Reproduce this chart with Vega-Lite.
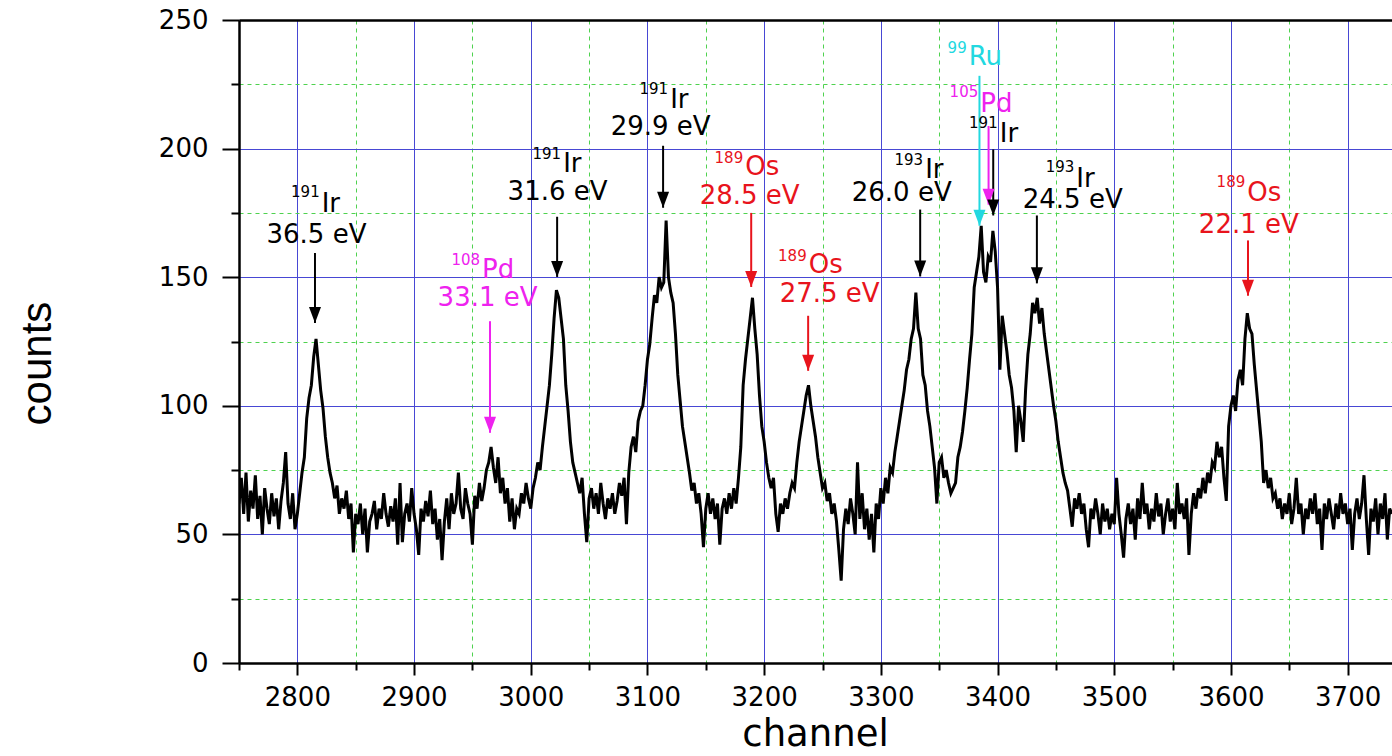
{
"$schema": "https://vega.github.io/schema/vega-lite/v6.json",
"width": 1153, "height": 643,
"autosize": {"type": "none"},
"padding": {"left": 239, "top": 20, "right": 0, "bottom": 93},
"background": "#ffffff",
"config": {"view": {"stroke": null}},
"datasets": {
"spec": [
{"c":2750,"n":62},{"c":2752,"n":72},{"c":2754,"n":58},{"c":2756,"n":74},{"c":2758,"n":55},{"c":2760,"n":67},{"c":2762,"n":60},{"c":2764,"n":73},{"c":2766,"n":56},{"c":2768,"n":65},{"c":2770,"n":50},{"c":2772,"n":68},{"c":2774,"n":60},{"c":2776,"n":54},{"c":2778,"n":66},{"c":2780,"n":57},{"c":2782,"n":64},{"c":2784,"n":52},{"c":2786,"n":63},{"c":2788,"n":70},{"c":2790,"n":82},{"c":2792,"n":62},{"c":2794,"n":56},{"c":2796,"n":66},{"c":2798,"n":52},{"c":2800,"n":58},
{"c":2802,"n":66},{"c":2804,"n":74},{"c":2806,"n":80},{"c":2808,"n":95},{"c":2810,"n":103},{"c":2812,"n":108},{"c":2814,"n":119},{"c":2816,"n":126},{"c":2818,"n":116},{"c":2820,"n":106},{"c":2822,"n":99},{"c":2824,"n":88},{"c":2826,"n":80},{"c":2828,"n":74},{"c":2830,"n":70},{"c":2832,"n":64},{"c":2834,"n":69},
{"c":2836,"n":58},{"c":2838,"n":64},{"c":2840,"n":60},{"c":2842,"n":67},{"c":2844,"n":56},{"c":2846,"n":62},{"c":2848,"n":43},{"c":2850,"n":58},{"c":2852,"n":54},{"c":2854,"n":62},{"c":2856,"n":50},{"c":2858,"n":60},{"c":2860,"n":43},{"c":2862,"n":55},{"c":2864,"n":58},{"c":2866,"n":63},{"c":2868,"n":52},{"c":2870,"n":60},{"c":2872,"n":56},{"c":2874,"n":66},{"c":2876,"n":58},{"c":2878,"n":53},{"c":2880,"n":61},{"c":2882,"n":55},{"c":2884,"n":64},{"c":2886,"n":46},{"c":2888,"n":70},{"c":2890,"n":47},{"c":2892,"n":58},{"c":2894,"n":62},{"c":2896,"n":55},{"c":2898,"n":68},{"c":2900,"n":58},{"c":2902,"n":52},{"c":2904,"n":42},{"c":2906,"n":60},{"c":2908,"n":55},{"c":2910,"n":63},{"c":2912,"n":57},{"c":2914,"n":67},{"c":2916,"n":54},{"c":2918,"n":60},{"c":2920,"n":48},{"c":2922,"n":56},{"c":2924,"n":40},{"c":2926,"n":55},{"c":2928,"n":64},{"c":2930,"n":52},{"c":2932,"n":66},{"c":2934,"n":58},{"c":2936,"n":62},{"c":2938,"n":74},{"c":2940,"n":60},{"c":2942,"n":56},{"c":2944,"n":68},{"c":2946,"n":62},{"c":2948,"n":58},{"c":2950,"n":46},{"c":2952,"n":65},{"c":2954,"n":60},{"c":2956,"n":70},{"c":2958,"n":63},{"c":2960,"n":68},{"c":2962,"n":75},{"c":2964,"n":78},{"c":2966,"n":84},{"c":2968,"n":76},{"c":2970,"n":70},{"c":2972,"n":80},{"c":2974,"n":66},{"c":2976,"n":72},{"c":2978,"n":62},{"c":2980,"n":68},{"c":2982,"n":55},{"c":2984,"n":64},{"c":2986,"n":52},{"c":2988,"n":60},{"c":2990,"n":58},{"c":2992,"n":66},{"c":2994,"n":62},{"c":2996,"n":70},{"c":2998,"n":64},
{"c":3000,"n":60},{"c":3002,"n":68},{"c":3004,"n":72},{"c":3006,"n":78},{"c":3008,"n":75},{"c":3010,"n":84},{"c":3012,"n":92},{"c":3014,"n":100},{"c":3016,"n":108},{"c":3018,"n":120},{"c":3020,"n":134},{"c":3022,"n":145},{"c":3024,"n":142},{"c":3026,"n":134},{"c":3028,"n":126},{"c":3030,"n":108},{"c":3032,"n":98},{"c":3034,"n":86},{"c":3036,"n":78},{"c":3038,"n":74},{"c":3040,"n":70},{"c":3042,"n":66},{"c":3044,"n":72},{"c":3046,"n":58},{"c":3048,"n":47},{"c":3050,"n":64},{"c":3052,"n":68},{"c":3054,"n":60},{"c":3056,"n":66},{"c":3058,"n":58},{"c":3060,"n":70},{"c":3062,"n":62},{"c":3064,"n":56},{"c":3066,"n":64},{"c":3068,"n":60},{"c":3070,"n":66},{"c":3072,"n":58},{"c":3074,"n":63},{"c":3076,"n":70},{"c":3078,"n":65},{"c":3080,"n":72},{"c":3082,"n":54},{"c":3084,"n":74},
{"c":3086,"n":84},{"c":3088,"n":88},{"c":3090,"n":82},{"c":3092,"n":94},{"c":3094,"n":98},{"c":3096,"n":100},{"c":3098,"n":108},{"c":3100,"n":118},{"c":3102,"n":124},{"c":3104,"n":134},{"c":3106,"n":143},{"c":3108,"n":140},{"c":3110,"n":150},{"c":3112,"n":146},{"c":3114,"n":148},{"c":3116,"n":172},{"c":3118,"n":150},{"c":3120,"n":144},{"c":3122,"n":140},{"c":3124,"n":128},{"c":3126,"n":112},{"c":3128,"n":102},{"c":3130,"n":92},{"c":3132,"n":86},{"c":3134,"n":80},{"c":3136,"n":74},{"c":3138,"n":67},{"c":3140,"n":70},{"c":3142,"n":62},{"c":3144,"n":66},{"c":3146,"n":58},{"c":3148,"n":45},{"c":3150,"n":60},
{"c":3152,"n":66},{"c":3154,"n":58},{"c":3156,"n":64},{"c":3158,"n":56},{"c":3160,"n":62},{"c":3162,"n":46},{"c":3164,"n":60},{"c":3166,"n":64},{"c":3168,"n":58},{"c":3170,"n":66},{"c":3172,"n":60},{"c":3174,"n":68},{"c":3176,"n":62},{"c":3178,"n":72},
{"c":3180,"n":84},{"c":3182,"n":108},{"c":3184,"n":118},{"c":3186,"n":126},{"c":3188,"n":134},{"c":3190,"n":142},{"c":3192,"n":130},{"c":3194,"n":120},{"c":3196,"n":104},{"c":3198,"n":92},{"c":3200,"n":86},{"c":3202,"n":78},{"c":3204,"n":72},{"c":3206,"n":68},{"c":3208,"n":72},{"c":3210,"n":58},{"c":3212,"n":51},{"c":3214,"n":62},{"c":3216,"n":58},{"c":3218,"n":64},{"c":3220,"n":60},{"c":3222,"n":66},
{"c":3224,"n":70},{"c":3226,"n":68},{"c":3228,"n":78},{"c":3230,"n":86},{"c":3232,"n":92},{"c":3234,"n":98},{"c":3236,"n":104},{"c":3238,"n":108},{"c":3240,"n":100},{"c":3242,"n":94},{"c":3244,"n":88},{"c":3246,"n":80},{"c":3248,"n":74},{"c":3250,"n":68},{"c":3252,"n":70},{"c":3254,"n":63},{"c":3256,"n":66},{"c":3258,"n":58},
{"c":3260,"n":62},{"c":3262,"n":55},{"c":3264,"n":44},{"c":3266,"n":32},{"c":3268,"n":52},{"c":3270,"n":60},{"c":3272,"n":54},{"c":3274,"n":64},{"c":3276,"n":58},{"c":3278,"n":50},{"c":3280,"n":78},{"c":3282,"n":56},{"c":3284,"n":66},{"c":3286,"n":52},{"c":3288,"n":60},{"c":3290,"n":48},{"c":3292,"n":58},{"c":3294,"n":43},{"c":3296,"n":62},{"c":3298,"n":56},{"c":3300,"n":68},{"c":3302,"n":62},{"c":3304,"n":72},{"c":3306,"n":66},{"c":3308,"n":76},{"c":3310,"n":74},
{"c":3312,"n":82},{"c":3314,"n":88},{"c":3316,"n":94},{"c":3318,"n":100},{"c":3320,"n":106},{"c":3322,"n":114},{"c":3324,"n":118},{"c":3326,"n":126},{"c":3328,"n":130},{"c":3330,"n":144},{"c":3332,"n":130},{"c":3334,"n":126},{"c":3336,"n":112},{"c":3338,"n":108},{"c":3340,"n":98},{"c":3342,"n":92},{"c":3344,"n":84},{"c":3346,"n":76},{"c":3348,"n":62},{"c":3350,"n":78},{"c":3352,"n":80},{"c":3354,"n":72},{"c":3356,"n":75},{"c":3358,"n":70},{"c":3360,"n":66},
{"c":3362,"n":68},{"c":3364,"n":70},{"c":3366,"n":80},{"c":3368,"n":84},{"c":3370,"n":90},{"c":3372,"n":98},{"c":3374,"n":107},{"c":3376,"n":118},{"c":3378,"n":128},{"c":3380,"n":146},{"c":3382,"n":152},{"c":3384,"n":158},{"c":3386,"n":170},{"c":3388,"n":152},{"c":3390,"n":148},{"c":3392,"n":158},{"c":3394,"n":156},{"c":3396,"n":168},{"c":3398,"n":160},{"c":3400,"n":146},{"c":3402,"n":114},{"c":3404,"n":135},{"c":3406,"n":128},{"c":3408,"n":121},{"c":3410,"n":112},{"c":3412,"n":107},{"c":3414,"n":98},{"c":3416,"n":82},{"c":3418,"n":100},{"c":3420,"n":94},{"c":3422,"n":86},{"c":3424,"n":106},
{"c":3426,"n":120},{"c":3428,"n":128},{"c":3430,"n":140},{"c":3432,"n":136},{"c":3434,"n":142},{"c":3436,"n":132},{"c":3438,"n":138},{"c":3440,"n":128},{"c":3442,"n":121},{"c":3444,"n":114},{"c":3446,"n":107},{"c":3448,"n":100},{"c":3450,"n":94},{"c":3452,"n":86},{"c":3454,"n":80},{"c":3456,"n":74},{"c":3458,"n":70},{"c":3460,"n":67},{"c":3462,"n":60},{"c":3464,"n":53},{"c":3466,"n":64},{"c":3468,"n":60},{"c":3470,"n":66},
{"c":3472,"n":58},{"c":3474,"n":62},{"c":3476,"n":52},{"c":3478,"n":45},{"c":3480,"n":60},{"c":3482,"n":56},{"c":3484,"n":64},{"c":3486,"n":58},{"c":3488,"n":50},{"c":3490,"n":62},{"c":3492,"n":55},{"c":3494,"n":60},{"c":3496,"n":52},{"c":3498,"n":58},{"c":3500,"n":54},{"c":3502,"n":72},{"c":3504,"n":58},{"c":3506,"n":50},{"c":3508,"n":41},{"c":3510,"n":56},{"c":3512,"n":62},{"c":3514,"n":54},{"c":3516,"n":60},{"c":3518,"n":48},{"c":3520,"n":64},{"c":3522,"n":56},{"c":3524,"n":70},{"c":3526,"n":58},{"c":3528,"n":62},{"c":3530,"n":52},{"c":3532,"n":60},{"c":3534,"n":55},{"c":3536,"n":66},{"c":3538,"n":57},{"c":3540,"n":62},{"c":3542,"n":50},{"c":3544,"n":58},{"c":3546,"n":64},{"c":3548,"n":55},{"c":3550,"n":60},{"c":3552,"n":52},{"c":3554,"n":70},{"c":3556,"n":58},{"c":3558,"n":62},{"c":3560,"n":56},{"c":3562,"n":64},{"c":3564,"n":42},{"c":3566,"n":58},{"c":3568,"n":66},{"c":3570,"n":60},{"c":3572,"n":68},{"c":3574,"n":64},{"c":3576,"n":72},{"c":3578,"n":66},{"c":3580,"n":74},{"c":3582,"n":70},{"c":3584,"n":78},{"c":3586,"n":76},{"c":3588,"n":86},{"c":3590,"n":80},
{"c":3592,"n":84},{"c":3594,"n":72},{"c":3596,"n":63},{"c":3598,"n":92},{"c":3600,"n":100},{"c":3602,"n":104},{"c":3604,"n":98},{"c":3606,"n":110},{"c":3608,"n":114},{"c":3610,"n":108},{"c":3612,"n":126},{"c":3614,"n":136},{"c":3616,"n":130},{"c":3618,"n":128},{"c":3620,"n":116},{"c":3622,"n":106},{"c":3624,"n":96},{"c":3626,"n":86},{"c":3628,"n":70},{"c":3630,"n":75},{"c":3632,"n":68},{"c":3634,"n":72},{"c":3636,"n":64},{"c":3638,"n":66},{"c":3640,"n":60},
{"c":3642,"n":64},{"c":3644,"n":56},{"c":3646,"n":62},{"c":3648,"n":58},{"c":3650,"n":66},{"c":3652,"n":54},{"c":3654,"n":60},{"c":3656,"n":72},{"c":3658,"n":58},{"c":3660,"n":62},{"c":3662,"n":50},{"c":3664,"n":60},{"c":3666,"n":56},{"c":3668,"n":64},{"c":3670,"n":58},{"c":3672,"n":66},{"c":3674,"n":54},{"c":3676,"n":60},{"c":3678,"n":44},{"c":3680,"n":62},{"c":3682,"n":56},{"c":3684,"n":64},{"c":3686,"n":58},{"c":3688,"n":52},{"c":3690,"n":62},{"c":3692,"n":56},{"c":3694,"n":66},{"c":3696,"n":58},{"c":3698,"n":62},{"c":3700,"n":54},{"c":3702,"n":60},{"c":3704,"n":44},{"c":3706,"n":58},{"c":3708,"n":64},{"c":3710,"n":56},{"c":3712,"n":62},{"c":3714,"n":73},{"c":3716,"n":56},{"c":3718,"n":42},{"c":3720,"n":60},{"c":3722,"n":55},{"c":3724,"n":64},{"c":3726,"n":50},{"c":3728,"n":62},{"c":3730,"n":56},{"c":3732,"n":66},{"c":3734,"n":48},{"c":3736,"n":60},{"c":3738,"n":58}
],
"ann": [
{"sup":"191","sym":"Ir","en":"36.5 eV","g":"k","xs":2820,"ys":181.2,"yb":175.4,"xe":2816.4,"ye":163.3,"ax":2815.1,"a1":159.4,"a2":132.2},
{"sup":"108","sym":"Pd","en":"33.1 eV","g":"m","xs":2957.4,"ys":154.8,"yb":149.7,"xe":2963,"ye":138.9,"ax":2965.1,"a1":132.9,"a2":89.5},
{"sup":"191","sym":"Ir","en":"31.6 eV","g":"k","xs":3026.9,"ys":196,"yb":190.9,"xe":3023,"ye":180.1,"ax":3022.6,"a1":173.5,"a2":150.1},
{"sup":"191","sym":"Ir","en":"29.9 eV","g":"k","xs":3118.6,"ys":221.3,"yb":215.8,"xe":3111.3,"ye":205.1,"ax":3113.4,"a1":201.1,"a2":177},
{"sup":"189","sym":"Os","en":"28.5 eV","g":"r","xs":3182.9,"ys":194.4,"yb":189.8,"xe":3187.6,"ye":178.5,"ax":3188.9,"a1":175,"a2":146.2},
{"sup":"189","sym":"Os","en":"27.5 eV","g":"r","xs":3237.3,"ys":156.4,"yb":151.7,"xe":3256.1,"ye":140.4,"ax":3237.7,"a1":135,"a2":113.6},
{"sup":"193","sym":"Ir","en":"26.0 eV","g":"k","xs":3337.1,"ys":193.7,"yb":188.4,"xe":3317.9,"ye":179.7,"ax":3333.7,"a1":176.3,"a2":150.3},
{"sup":"99","sym":"Ru","g":"c","xs":3374.4,"ys":237.2,"yb":232.5,"ax":3384.5,"a1":228.3,"a2":170},
{"sup":"105","sym":"Pd","g":"m","xs":3384.3,"ys":220.1,"yb":214.3,"ax":3392.3,"a1":208.8,"a2":178.2},
{"sup":"191","sym":"Ir","g":"k","xs":3401,"ys":208.1,"yb":202.6,"ax":3396.3,"a1":199.7,"a2":174},
{"sup":"193","sym":"Ir","en":"24.5 eV","g":"k","xs":3466.6,"ys":190.9,"yb":185.1,"xe":3464.4,"ye":177,"ax":3433.7,"a1":174,"a2":147.6},
{"sup":"189","sym":"Os","en":"22.1 eV","g":"r","xs":3613.1,"ys":185.1,"yb":179.7,"xe":3615.3,"ye":167.2,"ax":3614.6,"a1":164.3,"a2":142.8}
]
},
"resolve": {"axis": {"x": "independent", "y": "independent"}},
"layer": [
{
"data": {"name": "spec"},
"mark": {"type": "line", "strokeOpacity": 0},
"encoding": {
"x": {"field": "c", "type": "quantitative", "scale": {"domain": [2750, 3738], "nice": false, "zero": false},
"axis": {"orient": "bottom", "values": [2750,2850,2950,3050,3150,3250,3350,3450,3550,3650], "labels": false, "domain": false, "tickSize": 7, "tickWidth": 2, "tickColor": "#000000", "grid": true, "gridColor": "#4fd24f", "gridWidth": 1, "gridDash": [4,4], "title": null}},
"y": {"field": "n", "type": "quantitative", "scale": {"domain": [0, 250], "nice": false, "zero": true},
"axis": {"orient": "left", "values": [25,75,125,175,225], "labels": false, "domain": false, "tickSize": 8, "tickWidth": 2, "tickColor": "#000000", "grid": true, "gridColor": "#4fd24f", "gridWidth": 1, "gridDash": [4,4], "title": null}}
}
},
{
"data": {"name": "spec"},
"mark": {"type": "line", "color": "#000000", "strokeWidth": 3, "strokeJoin": "miter", "clip": true},
"encoding": {
"x": {"field": "c", "type": "quantitative",
"axis": {"orient": "bottom", "values": [2800,2900,3000,3100,3200,3300,3400,3500,3600,3700], "format": "d", "tickSize": 12, "tickWidth": 2, "tickColor": "#000000", "domainColor": "#000000", "domainWidth": 2.5, "labelFont": "DejaVu Sans", "labelFontSize": 26, "labelColor": "#000000", "labelBaseline": "alphabetic", "labelPadding": 30, "labelFlush": false, "grid": true, "gridColor": "#4848d4", "gridWidth": 1,
"title": "channel", "titleFont": "DejaVu Sans", "titleFontSize": 37, "titleFontWeight": "normal", "titleColor": "#000000", "titleX": 576, "titleY": 82, "titleAlign": "center", "titleBaseline": "alphabetic"}},
"y": {"field": "n", "type": "quantitative",
"axis": {"orient": "left", "values": [0,50,100,150,200,250], "format": "d", "tickSize": 17, "tickWidth": 2, "tickColor": "#000000", "domainColor": "#000000", "domainWidth": 2.5, "labelFont": "DejaVu Sans", "labelFontSize": 26, "labelColor": "#000000", "labelPadding": 14, "grid": true, "gridColor": "#4848d4", "gridWidth": 1,
"title": "counts", "titleFont": "Liberation Sans", "titleFontSize": 42, "titleFontWeight": "normal", "titleColor": "#000000", "titleX": -189, "titleY": 343, "titleAngle": 270, "titleAlign": "center", "titleBaseline": "alphabetic"}}
}
},
{
"data": {"name": "ann"},
"mark": {"type": "point", "opacity": 0},
"encoding": {
"x": {"field": "ax", "type": "quantitative", "axis": {"orient": "top", "domain": true, "domainColor": "#000000", "domainWidth": 2.5, "ticks": false, "labels": false, "grid": false, "title": null}},
"y": {"field": "a1", "type": "quantitative", "axis": null}
}
},
{
"data": {"name": "ann"},
"mark": {"type": "rule", "strokeWidth": 2},
"encoding": {
"x": {"field": "ax", "type": "quantitative", "axis": null},
"y": {"field": "a1", "type": "quantitative", "axis": null},
"y2": {"field": "a2"},
"color": {"field": "g", "type": "nominal", "legend": null, "scale": {"domain": ["k","r","m","c"], "range": ["#000000","#e8141c","#ee22ee","#22d8e0"]}}
}
},
{
"data": {"name": "ann"},
"mark": {"type": "point", "shape": "M-0.375,-1L0.375,-1L0,0Z", "size": 1024, "filled": true, "opacity": 1},
"encoding": {
"x": {"field": "ax", "type": "quantitative", "axis": null},
"y": {"field": "a2", "type": "quantitative", "axis": null},
"color": {"field": "g", "type": "nominal", "legend": null}
}
},
{
"data": {"name": "ann"},
"mark": {"type": "text", "font": "DejaVu Sans", "fontSize": 15, "align": "right", "baseline": "alphabetic", "dx": -1},
"encoding": {
"x": {"field": "xs", "type": "quantitative", "axis": null},
"y": {"field": "ys", "type": "quantitative", "axis": null},
"text": {"field": "sup"},
"color": {"field": "g", "type": "nominal", "legend": null}
}
},
{
"data": {"name": "ann"},
"mark": {"type": "text", "font": "DejaVu Sans", "fontSize": 26, "align": "left", "baseline": "alphabetic", "dx": 1},
"encoding": {
"x": {"field": "xs", "type": "quantitative", "axis": null},
"y": {"field": "yb", "type": "quantitative", "axis": null},
"text": {"field": "sym"},
"color": {"field": "g", "type": "nominal", "legend": null}
}
},
{
"data": {"name": "ann"},
"transform": [{"filter": "datum.en"}],
"mark": {"type": "text", "font": "DejaVu Sans", "fontSize": 26, "align": "center", "baseline": "alphabetic"},
"encoding": {
"x": {"field": "xe", "type": "quantitative", "axis": null},
"y": {"field": "ye", "type": "quantitative", "axis": null},
"text": {"field": "en"},
"color": {"field": "g", "type": "nominal", "legend": null}
}
}
]
}
